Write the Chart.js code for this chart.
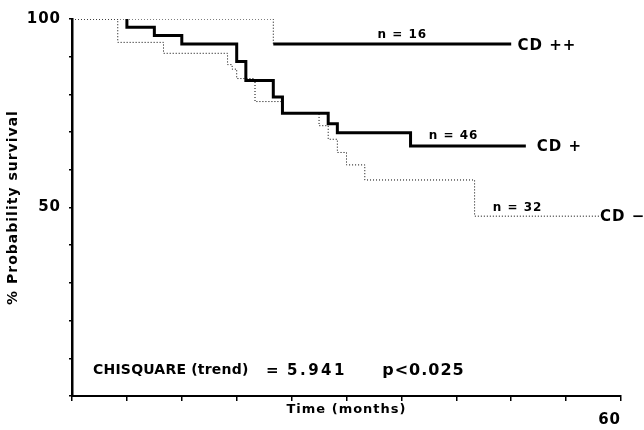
<!DOCTYPE html>
<html>
<head>
<meta charset="utf-8">
<script src="https://cdn.jsdelivr.net/npm/chart.js@4/dist/chart.umd.min.js"></script>
<style>
  html, body { margin: 0; padding: 0; background: #fff; }
  #wrap { width: 644px; height: 430px; position: relative; }
</style>
</head>
<body>
<div id="wrap"><canvas id="kmChart"></canvas></div>
<script>
// survival curves, time in months / % surviving
var cdPlusPlusTimes = [0, 22, 48];
var cdPlusPlusSurv  = [100, 93.4, 93.4];

var cdPlusTimes = [6, 6, 9, 12, 18, 19, 22, 23, 28, 29, 37, 49.6];
var cdPlusSurv  = [100, 97.8, 95.6, 93.4, 88.7, 83.7, 79.3, 75.0, 72.2, 69.8, 66.3, 66.3];

var cdMinusTimes = [0, 5, 10, 17, 17.5, 18, 20, 23, 27, 28, 29, 30, 32, 44, 57.8];
var cdMinusSurv  = [100, 93.8, 90.9, 87.9, 86.7, 84.2, 78.1, 75.0, 71.7, 68.1, 64.6, 61.3, 57.3, 47.7, 47.7];

var yTickLabels = [100, 50];
var xTickLabels = [60];

function toPoints(xs, ys) {
    return xs.map(function (x, i) { return { x: x, y: ys[i] }; });
}

var FONT = '"DejaVu Sans", sans-serif';

// free text on the plot, anchored in data units
var notes = [
    { text: 'n = 16', x: 36.1, y: 95.8, size: 12, align: 'center', ls: 1 },
    { text: 'CD ++', x: 48.7, y: 92.8, size: 15, align: 'left', ls: 1 },
    { text: 'n = 46', x: 41.7, y: 69.0, size: 12, align: 'center', ls: 1 },
    { text: 'CD +', x: 50.8, y: 66.0, size: 15, align: 'left', ls: 1 },
    { text: 'n = 32', x: 48.7, y: 49.9, size: 12, align: 'center', ls: 1 },
    { text: 'CD \u2212', x: 57.7, y: 47.5, size: 15, align: 'left', ls: 1 },
    { text: 'CHISQUARE (trend)', x: 2.3, y: 6.7, size: 14, align: 'left', ls: 0.2 },
    { text: '=', x: 21.2, y: 6.7, size: 15, align: 'left', ls: 0 },
    { text: '5.941', x: 23.5, y: 6.7, size: 15, align: 'left', ls: 2.5 },
    { text: 'p<0.025', x: 33.9, y: 6.7, size: 16, align: 'left', ls: 1 }
];

var spacing = {
    id: 'spacing',
    beforeDraw: function (chart) { chart.ctx.letterSpacing = '1px'; }
};

var notesPlugin = {
    id: 'notes',
    afterDraw: function (chart) {
        var ctx = chart.ctx;
        var xs = chart.scales.x, ys = chart.scales.y;
        ctx.save();
        ctx.fillStyle = '#000';
        ctx.textBaseline = 'middle';
        notes.forEach(function (n) {
            ctx.font = 'bold ' + n.size + 'px ' + FONT;
            ctx.letterSpacing = n.ls + 'px';
            ctx.textAlign = n.align;
            ctx.fillText(n.text, xs.getPixelForValue(n.x), ys.getPixelForValue(n.y));
        });
        ctx.restore();
    }
};

var ctx = document.getElementById('kmChart').getContext('2d');

var myChart = new Chart(ctx, {
    type: 'line',
    data: {
        datasets: [{
            label: 'CD ++',
            data: toPoints(cdPlusPlusTimes, cdPlusPlusSurv),
            borderColor: '#000',
            borderWidth: 3,
            stepped: 'before',
            pointRadius: 0,
            segment: {
                borderDash: function (c) { return c.p0DataIndex === 0 ? [1, 2] : undefined; },
                borderWidth: function (c) { return c.p0DataIndex === 0 ? 1 : undefined; }
            }
        }, {
            label: 'CD +',
            data: toPoints(cdPlusTimes, cdPlusSurv),
            borderColor: '#000',
            borderWidth: 3,
            stepped: 'before',
            pointRadius: 0
        }, {
            label: 'CD -',
            data: toPoints(cdMinusTimes, cdMinusSurv),
            borderColor: '#000',
            borderWidth: 1,
            borderDash: [1, 2],
            stepped: 'before',
            pointRadius: 0
        }]
    },
    options: {
        responsive: true,
        maintainAspectRatio: false,
        animation: false,
        layout: { padding: { top: 19, right: 23, left: 0, bottom: 0 } },
        plugins: {
            legend: { display: false },
            tooltip: { enabled: false }
        },
        scales: {
            x: {
                type: 'linear',
                min: 0,
                max: 60,
                afterFit: function (s) { s.height = 34; },
                border: { color: '#000', width: 2 },
                grid: { drawOnChartArea: false, color: '#000', lineWidth: 1.5, tickLength: 5 },
                ticks: {
                    stepSize: 6,
                    autoSkip: false,
                    maxRotation: 0,
                    align: 'end',
                    padding: 10,
                    color: '#000',
                    font: { family: FONT, size: 15, weight: 'bold' },
                    callback: function (v) { return xTickLabels.indexOf(v) >= 0 ? String(v) : ''; }
                },
                title: {
                    display: true,
                    text: 'Time (months)',
                    color: '#000',
                    font: { family: FONT, size: 13, weight: 'bold' },
                    padding: { top: 0, bottom: 13 }
                }
            },
            y: {
                min: 0,
                max: 100,
                afterFit: function (s) { s.width = 72; },
                border: { color: '#000', width: 2.5 },
                grid: { drawOnChartArea: false, color: '#000', lineWidth: 1.5, tickLength: 3 },
                ticks: {
                    stepSize: 10,
                    autoSkip: false,
                    padding: 8,
                    color: '#000',
                    font: { family: FONT, size: 15, weight: 'bold' },
                    callback: function (v) { return yTickLabels.indexOf(v) >= 0 ? String(v) : ''; }
                },
                title: {
                    display: true,
                    text: '% Probability survival',
                    color: '#000',
                    font: { family: FONT, size: 14, weight: 'bold' },
                    padding: { top: 5, bottom: 0 }
                }
            }
        }
    },
    plugins: [spacing, notesPlugin]
});
</script>
</body>
</html>
